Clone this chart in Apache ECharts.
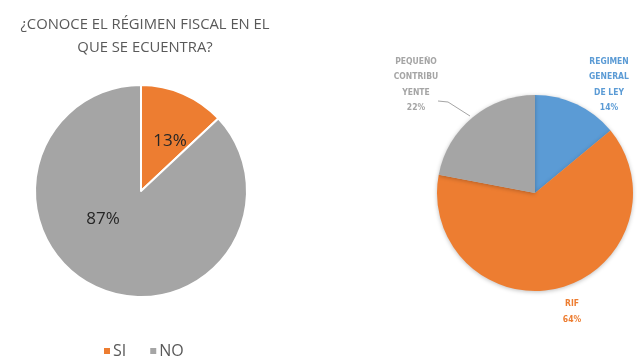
<!DOCTYPE html>
<html>
<head>
<meta charset="utf-8">
<script src="https://cdn.jsdelivr.net/npm/echarts@6/dist/echarts.min.js"></script>
<style>
  html, body { margin: 0; padding: 0; background: #ffffff; }
  #chart { width: 637px; height: 356px; }
</style>
</head>
<body>
<div id="chart"></div>
<script>
// Survey: do you know your tax regime?
const knowCategories = ['SI', 'NO'];
const knowValues = [13, 87];
const knowColors = ['#ED7D31', '#A5A5A5'];

// Which regime are you in?
const regimeCategories = ['REGIMEN\nGENERAL\nDE LEY', 'RIF', 'PEQUEÑO\nCONTRIBU\nYENTE'];
const regimeValues = [14, 64, 22];
const regimeColors = ['#5B9BD5', '#ED7D31', '#A5A5A5'];

const titleText = '¿CONOCE EL RÉGIMEN FISCAL EN EL\nQUE SE ECUENTRA?';

// label centre points for both pies
const knowLabelPos = [
  { x: 170, y: 141 },
  { x: 103, y: 219 }
];
const regimeLabelPos = [
  { x: 609, y: 85 },
  { x: 572, y: 312 },
  { x: 416, y: 85 }
];

const condensed = "'DejaVu Sans Condensed', 'Liberation Sans', sans-serif";

const chart = echarts.init(document.getElementById('chart'), null, { renderer: 'canvas' });

chart.setOption({
  animation: false,
  backgroundColor: '#ffffff',
  title: {
    text: titleText,
    left: 140,
    top: 8,
    textAlign: 'center',
    textStyle: {
      fontFamily: 'Open Sans',
      fontSize: 14.8,
      fontWeight: 'normal',
      color: '#595959',
      lineHeight: 23
    }
  },
  legend: {
    data: knowCategories,
    left: 97,
    top: 338,
    itemWidth: 8,
    itemHeight: 8,
    itemGap: 22,
    icon: 'rect',
    textStyle: {
      fontFamily: 'Open Sans',
      fontSize: 16,
      color: '#595959',
      padding: [0, 0, 0, -3]
    }
  },
  series: [
    {
      type: 'pie',
      center: [141, 191],
      radius: 106,
      startAngle: 90,
      clockwise: true,
      data: knowCategories.map((c, i) => ({
        name: c,
        value: knowValues[i],
        itemStyle: { color: knowColors[i] }
      })),
      itemStyle: { borderColor: '#ffffff', borderWidth: 2 },
      label: {
        show: true,
        position: 'inner',
        formatter: p => p.value + '%',
        fontFamily: 'Open Sans',
        fontSize: 17,
        color: '#262626'
      },
      labelLine: { show: false },
      labelLayout: function (params) {
        const pos = knowLabelPos[params.dataIndex];
        return { x: pos.x, y: pos.y, align: 'center', verticalAlign: 'middle' };
      },
      emphasis: { disabled: true }
    },
    {
      type: 'pie',
      center: [535, 193],
      radius: 98,
      startAngle: 90,
      clockwise: true,
      data: regimeCategories.map((c, i) => ({
        name: c,
        value: regimeValues[i],
        itemStyle: { color: regimeColors[i] },
        label: { color: regimeColors[i] },
        labelLine: { show: i === 2 }
      })),
      itemStyle: {
        shadowColor: 'rgba(0,0,0,0.25)',
        shadowBlur: 4,
        shadowOffsetY: 1
      },
      label: {
        show: true,
        position: 'outside',
        formatter: p => p.name + '\n' + p.value + '%',
        fontFamily: condensed,
        fontWeight: 'bold',
        fontSize: 8.5,
        lineHeight: 15.5,
        align: 'center',
        overflow: 'none',
        width: 80
      },
      labelLine: {
        lineStyle: { color: '#A5A5A5', width: 1 }
      },
      labelLayout: function (params) {
        const pos = regimeLabelPos[params.dataIndex];
        const out = {
          x: pos.x,
          y: pos.y,
          align: 'center',
          verticalAlign: 'middle'
        };
        if (params.dataIndex === 2) {
          out.labelLinePoints = [[438, 101], [448, 102], [470, 116]];
        }
        return out;
      },
      emphasis: { disabled: true }
    }
  ]
});
</script>
</body>
</html>
